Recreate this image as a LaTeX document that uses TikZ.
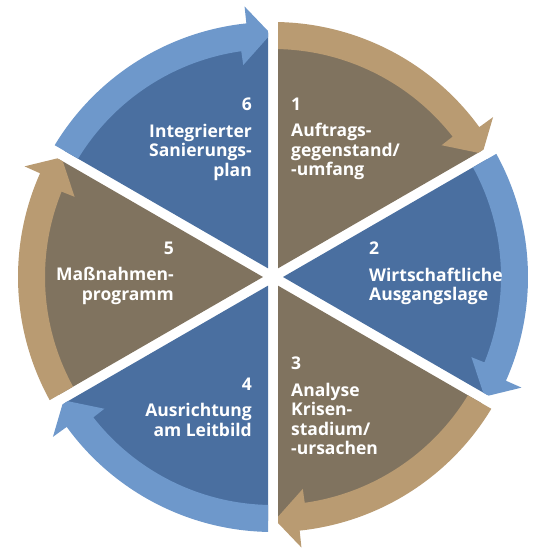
\documentclass[tikz,border=0pt]{standalone}
\usepackage{fontspec}
\setmainfont{Open Sans}
\usetikzlibrary{calc}
\definecolor{darkblue}{HTML}{4A6FA0}
\definecolor{ringblue}{HTML}{6E98CB}
\definecolor{darkbrown}{HTML}{80735F}
\definecolor{ringbrown}{HTML}{B99B72}
\tikzset{
  label text/.style={text=white, inner sep=0pt, font=\bfseries\fontsize{17.5}{19.5}\selectfont},
  leftlabel/.style={label text, anchor=north west, align=left},
  rightlabel/.style={label text, anchor=north east, align=right},
}
\newcommand{\mysector}[3]{%
  \pgfmathsetmacro{\aA}{#1}%
  \pgfmathsetmacro{\aB}{#1-60}%
  \pgfmathsetmacro{\aM}{#1-30}%
  \begin{scope}
    \clip ($(C)+(\aM:10)$) -- ($(C)+(\aM:10)+(\aA:420)$) -- ($(C)+(\aM:10)+(\aB:420)$) -- cycle;
    \fill[#2] (C) -- ($(C)+(\aA:244)$) arc[start angle=\aA, end angle=\aB, radius=244] -- cycle;
    \fill[#3] ($(C)+({\aA+3}:255)$) arc[start angle={\aA+3}, end angle={\aB+6}, radius=255]
      -- ($(C)+({\aB+6}:272)$) -- ($(C)+({\aB+0.5}:243)$) -- ($(C)+({\aB+8}:214)$)
      -- ($(C)+({\aB+8}:228)$) arc[start angle={\aB+8}, end angle={\aA+3}, radius=228] -- cycle;
  \end{scope}}
\begin{document}
\begin{tikzpicture}[x=1pt,y=1pt]
  \useasboundingbox (0,0) rectangle (544,560);
  \coordinate (C) at (273,283);
  \mysector{90}{darkbrown}{ringbrown}
  \mysector{30}{darkblue}{ringblue}
  \mysector{-30}{darkbrown}{ringbrown}
  \mysector{-90}{darkblue}{ringblue}
  \mysector{-150}{darkbrown}{ringbrown}
  \mysector{150}{darkblue}{ringblue}
  \node[leftlabel] (t1) at (291,462.2) {1\\[7pt]Auftrags-\\gegenstand/\\-umfang};
  \node[leftlabel] (t2) at (369,318.2) {2\\[7pt]Wirtschaftliche\\Ausgangslage};
  \node[leftlabel] (t3) at (291,203.2) {3\\[7pt]Analyse\\Krisen-\\stadium/\\-ursachen};
  \node[rightlabel] (t4) at (252,182.2) {4\\[7pt]Ausrichtung\\am Leitbild};
  \node[rightlabel] (t5) at (174,318.2) {5\\[7pt]Maßnahmen-\\programm};
  \node[rightlabel] (t6) at (252,462.2) {6\\[7pt]Integrierter\\Sanierungs-\\plan};
\end{tikzpicture}
\end{document}
